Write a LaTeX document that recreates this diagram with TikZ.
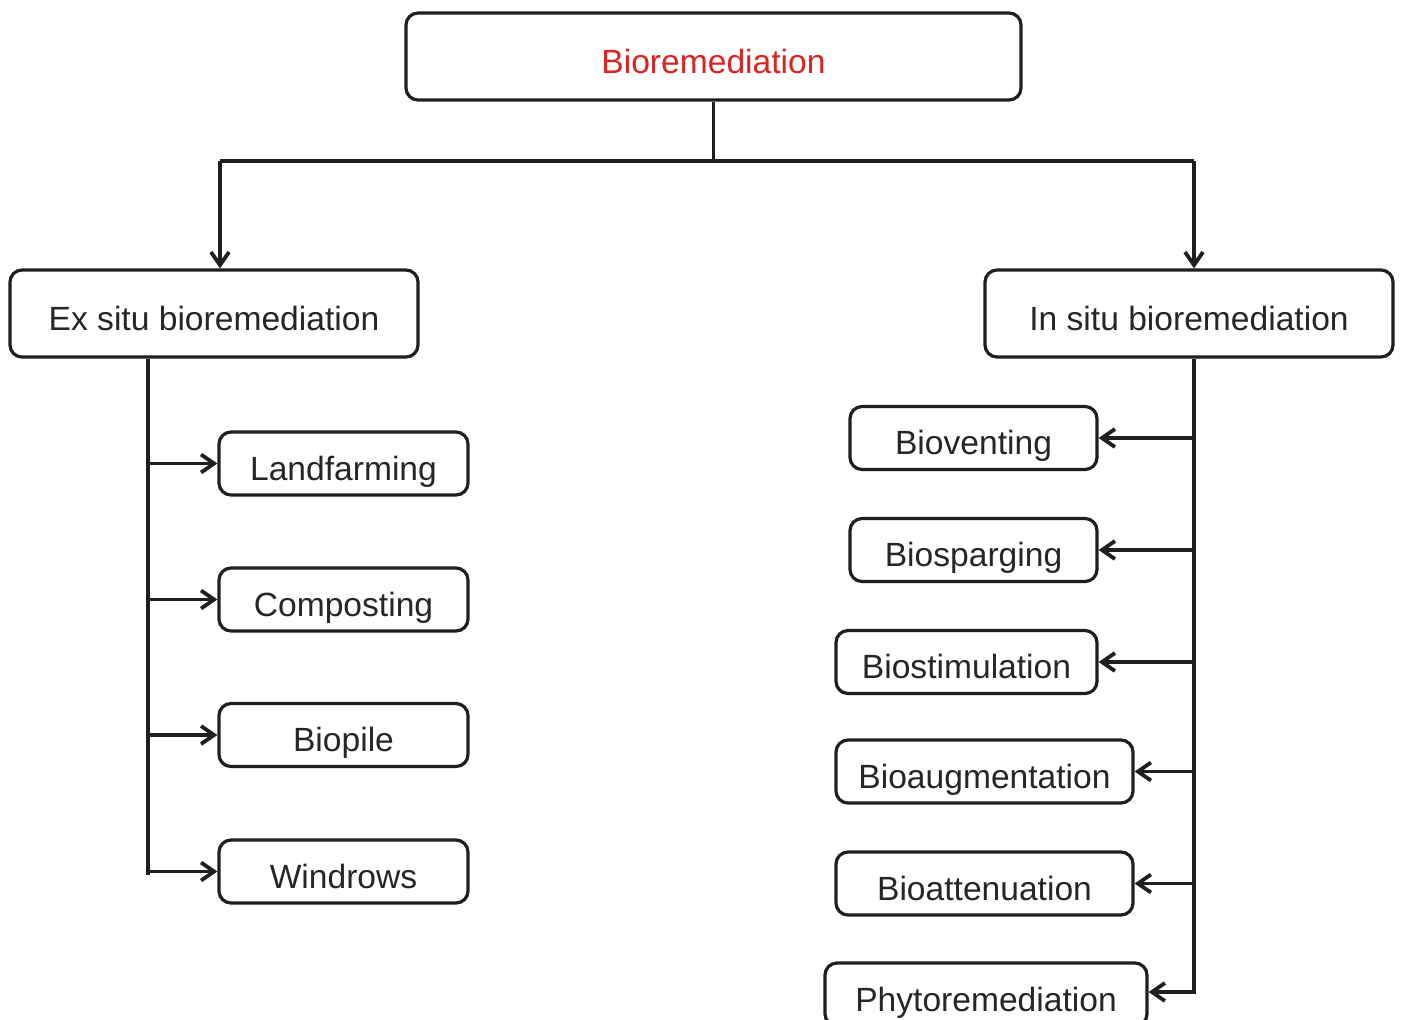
\documentclass[tikz,border=0pt]{standalone}
\usepackage{fontspec}
\setmainfont{Liberation Sans}
\usetikzlibrary{arrows.meta}
\definecolor{bred}{RGB}{221,34,34}
\begin{document}
\begin{tikzpicture}[x=0.5pt,y=-0.5pt,
  box/.style={draw=black!88, line width=1.6pt, rounded corners=6pt, fill=white,
    inner sep=0pt, text height=20pt, text depth=3.5pt,
    font=\fontsize{16.8}{20}\selectfont, text=black!85},
  big/.style={box, minimum height=43.5pt},
  small/.style={box, minimum height=31.5pt},
  conn/.style={draw=black!88, line width=1.8pt},
  arr/.style={conn, -{Straight Barb[length=6.5pt,width=9pt,line width=1.9pt]}}]
\clip (0,0) rectangle (1401,1019);
\fill[white] (0,0) rectangle (1401,1019);

\node[big, minimum width=307.5pt, text=bred] (top) at (713.5,56.5) {Bioremediation};
\node[big, minimum width=204pt] (ex) at (214,313.5) {Ex situ bioremediation};
\node[big, minimum width=204pt] (in) at (1189,313.5) {In situ bioremediation};

\node[small, minimum width=124.5pt] (land) at (343.5,463.5) {Landfarming};
\node[small, minimum width=124.5pt] (comp) at (343.5,599.5) {Composting};
\node[small, minimum width=124.5pt] (pile) at (343.5,735) {Biopile};
\node[small, minimum width=124.5pt] (wind) at (343.5,871.5) {Windrows};

\node[small, minimum width=123.5pt] (vent) at (973.5,438) {Bioventing};
\node[small, minimum width=123.5pt] (sparg) at (973.5,550) {Biosparging};
\node[small, minimum width=130.5pt] (stim) at (966.5,662) {Biostimulation};
\node[small, minimum width=148.5pt] (aug) at (984.5,771.5) {Bioaugmentation};
\node[small, minimum width=148.5pt] (att) at (984.5,883.5) {Bioattenuation};
\node[small, minimum width=161pt] (phyto) at (986,994.5) {Phytoremediation};

\coordinate (mid) at (713.5,161);
\coordinate (jl) at (220,161);
\coordinate (jr) at (1194,161);
\coordinate (tl) at (148,875);
\coordinate (tr) at (1194,992);

\draw[conn] (top.south) -- (mid);
\draw[conn] (jl) -- (jr);
\draw[arr] (jl) -- (jl |- ex.north);
\draw[arr] (jr) -- (jr |- in.north);

\draw[conn] (tl |- ex.south) -- (tl);
\foreach \n in {land,comp,pile,wind}
  \draw[arr] (tl |- \n.west) -- (\n.west);

\draw[arr] (tr |- in.south) -- (tr) -- (phyto.east |- tr);
\foreach \n in {vent,sparg,stim,aug,att}
  \draw[arr] (tr |- \n.east) -- (\n.east);
\end{tikzpicture}
\end{document}
